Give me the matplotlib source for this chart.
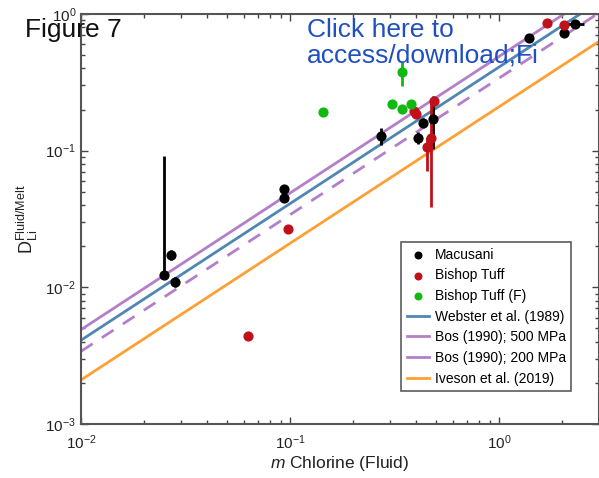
import numpy as np
import matplotlib
matplotlib.use("Agg")
import matplotlib.pyplot as plt
from matplotlib.lines import Line2D

plt.rcParams['font.family'] = ['Liberation Sans', 'DejaVu Sans']
plt.rcParams['mathtext.fontset'] = 'custom'
plt.rcParams['mathtext.rm'] = 'Liberation Sans'
plt.rcParams['mathtext.it'] = 'Liberation Sans:italic'

# Macusani (black)
mac_x = [0.0249, 0.0269, 0.0281, 0.094, 0.094, 0.273, 0.41, 0.43, 0.48, 1.39, 2.04, 2.30]
mac_y = [0.0123, 0.0173, 0.0110, 0.052, 0.045, 0.128, 0.124, 0.160, 0.170, 0.665, 0.73, 0.84]
mac_lo = [0.0003, 0.0015, 0.0010, 0.003, 0.003, 0.018, 0.012, 0.012, 0.067, 0.02, 0.03, 0.03]
mac_hi = [0.079, 0.0015, 0.0010, 0.003, 0.003, 0.018, 0.012, 0.012, 0.08, 0.02, 0.03, 0.03]
mac_xerr = [0, 0, 0, 0, 0, 0, 0, 0, 0, 0, 0, 0.25]

# Bishop Tuff (red)
bt_x = [0.0627, 0.0973, 1.69, 2.04, 0.39, 0.40, 0.49, 0.474, 0.45]
bt_y = [0.00438, 0.0265, 0.86, 0.83, 0.196, 0.185, 0.232, 0.124, 0.106]
bt_lo = [0, 0, 0, 0, 0, 0, 0.02, 0.085, 0.035]
bt_hi = [0, 0, 0, 0, 0, 0, 0.02, 0.12, 0.02]

# Bishop Tuff (F) (green)
btf_x = [0.143, 0.308, 0.344, 0.344, 0.38]
btf_y = [0.193, 0.221, 0.374, 0.203, 0.221]
btf_lo = [0, 0, 0.075, 0, 0]
btf_hi = [0, 0, 0.07, 0, 0]

# partition coefficient lines D = k * m
lines = [
    ("Webster et al. (1989)", 0.41, "#4f86b3", "-"),
    ("Bos (1990); 500 MPa", 0.49, "#b47fc8", "-"),
    ("Bos (1990); 200 MPa", 0.34, "#b47fc8", (0, (5, 4))),
    ("Iveson et al. (2019)", 0.21, "#ffa035", "-"),
]

fig = plt.figure(figsize=(5.99, 4.78), dpi=100)
ax = fig.add_axes([0.1352, 0.113, 0.8648, 0.8577])

xs = np.array([0.01, 3.0])
handles = []
for label, k, col, ls in lines:
    ax.plot(xs, k * xs, color=col, ls=ls, lw=2, zorder=2)
    # legend shows short solid swatches
    handles.append(Line2D([], [], color=col, lw=2, label=label))

ax.errorbar(mac_x, mac_y, yerr=[mac_lo, mac_hi], xerr=mac_xerr, fmt='none',
            ecolor='black', elinewidth=2, zorder=3)
ax.errorbar(bt_x, bt_y, yerr=[bt_lo, bt_hi], fmt='none', ecolor='#c0101a',
            elinewidth=2, zorder=3)
ax.errorbar(btf_x, btf_y, yerr=[btf_lo, btf_hi], fmt='none', ecolor='#10b810',
            elinewidth=2, zorder=3)
h1 = ax.scatter(mac_x, mac_y, s=40, color='black', zorder=4, label='Macusani')
h2 = ax.scatter(bt_x, bt_y, s=40, color='#c0101a', zorder=4, label='Bishop Tuff')
h3 = ax.scatter(btf_x, btf_y, s=40, color='#10b810', zorder=4, label='Bishop Tuff (F)')

ax.set_xscale('log')
ax.set_yscale('log')
ax.set_xlim(0.01, 3.0)
ax.set_ylim(1e-3, 1)
ax.set_xticks([0.01, 0.1, 1])
ax.set_yticks([1e-3, 1e-2, 1e-1, 1])
ax.tick_params(which='both', direction='in', top=True, right=True,
               colors='#444444', labelcolor='#222222', labelsize=11)
ax.tick_params(axis='x', which='major', pad=7)
ax.tick_params(which='major', length=5, width=1)
ax.tick_params(which='minor', length=3, width=1)
for s in ax.spines.values():
    s.set_color('#555555')
    s.set_linewidth(1.5)

ax.set_xlabel(r'$m$ Chlorine (Fluid)', fontsize=12.5, color='#222222', labelpad=1)
ax.set_ylabel(r'$\mathrm{D}_{\mathrm{Li}}^{\mathrm{Fluid/Melt}}$', fontsize=13,
              color='#222222')

leg = ax.legend(handles=[h1, h2, h3] + handles, loc='lower right',
                bbox_to_anchor=(0.96, 0.063), fontsize=10, frameon=True,
                fancybox=False, edgecolor='#333333', handlelength=1.6,
                handletextpad=0.4, borderpad=0.4, labelspacing=0.48,
                markerscale=0.75)
leg.get_frame().set_linewidth(1.2)

fig.text(0.042, 0.9226, 'Figure 7', fontsize=19, color='#111111', va='baseline')
fig.text(0.512, 0.9226, 'Click here to', fontsize=19, color='#2050c0', va='baseline')
fig.text(0.512, 0.870, 'access/download;Fi', fontsize=19, color='#2050c0', va='baseline')

fig.savefig('out.png', dpi=100)
